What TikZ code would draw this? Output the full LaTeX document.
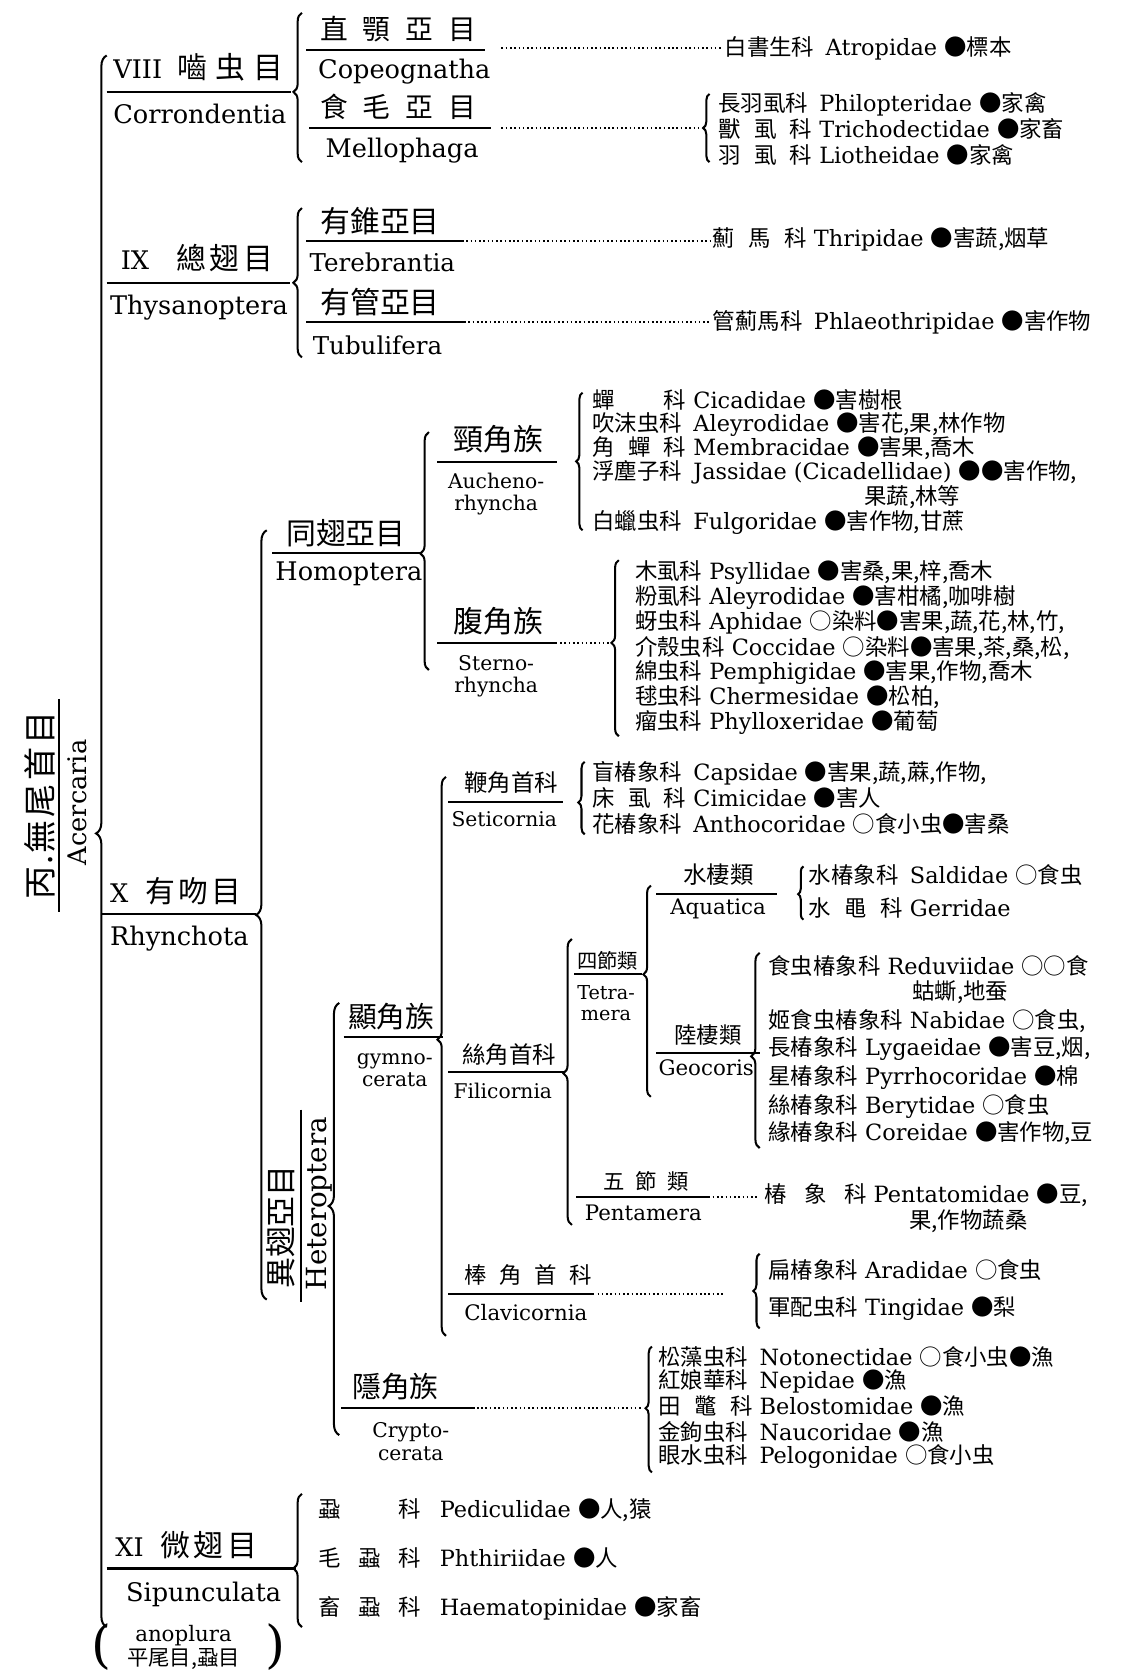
\documentclass[tikz,border=0pt]{standalone}
\usepackage{fontspec}
\setmainfont{DejaVu Serif}
\newfontfamily\cjk{Noto Sans CJK TC}
\usetikzlibrary{decorations.pathreplacing}
\newcommand\zhx[1]{{\cjk #1}}
\newcommand\fbx[2][88pt]{\makebox[#1][l]{\cjk #2}}
\newcommand\fs[1]{\fontsize{#1}{#1}\selectfont}
\tikzset{
  lbl/.style={inner sep=0pt, anchor=west},
  ord/.style={lbl, font=\fs{24}},
  fam/.style={lbl, font=\fs{21}},
  two/.style={inner sep=0pt, align=center, font=\fontsize{19}{21}\selectfont},
  uline/.style={line width=2pt},
  dots/.style={line width=2pt, dash pattern=on 1.5pt off 2.5pt},
  brc/.style args={#1:#2}{decorate, decoration={brace, amplitude=#2, aspect=#1}, line width=1.9pt},
}
\begin{document}
\begin{tikzpicture}[x=1pt,y=-1pt]
\fill[white] (0,0) rectangle (1054,1568);
\path[use as bounding box] (0,0) rectangle (1054,1568);

% ---- top level
\draw[brc={0.505:10pt}] (100,1525) -- (100,52);
\node[rotate=90, font=\cjk\fs{31}, inner sep=0pt] (ttl) at (37,755) {丙\hspace{2pt}.\hspace{2pt}無\hspace{3pt}尾\hspace{3pt}首\hspace{3pt}目};
\draw[uline] (55,655) -- (55,855);
\node[rotate=90, font=\fs{24}, inner sep=0pt] (acer) at (72,752) {Acercaria};

% ---- VIII
\node[ord] (o8) at (106,63) {VIII\hspace{14pt}\zhx{\fs{28}嚙\hspace{8pt}虫\hspace{8pt}目}};
\draw[uline] (100,86) -- (273,86);
\node[ord] (o8l) at (106,107) {Corrondentia};
\draw[brc={0.47:8pt}] (283,152) -- (283,12);
\node[lbl, font=\cjk\fs{26}] (s8a) at (300,27) {直\hspace{14pt}顎\hspace{14pt}亞\hspace{14pt}目};
\draw[uline] (287,47) -- (455,47);
\node[ord] (s8al) at (298,67) {Copeognatha};
\draw[dots] (470,45) -- (677,45);
\node[fam] (f1) at (679,45) {\fbx{白書生科} Atropidae \zhx{●標本}};
\node[lbl, font=\cjk\fs{26}] (s8b) at (300,100) {食\hspace{14pt}毛\hspace{14pt}亞\hspace{14pt}目};
\draw[uline] (290,120) -- (460,120);
\node[ord] (s8bl) at (305,141) {Mellophaga};
\draw[dots] (470,120) -- (657,120);
\draw[brc={0.5:6pt}] (665,152) -- (665,88);
\node[fam] (f2) at (673,98) {\fbx{長羽虱科} Philopteridae \zhx{●家禽}};
\node[fam] (f3) at (673,121) {\fbx{獸\hfill 虱\hfill 科} Trichodectidae \zhx{●家畜}};
\node[fam] (f4) at (673,145) {\fbx{羽\hfill 虱\hfill 科} Liotheidae \zhx{●家禽}};

% ---- IX
\node[ord] (o9) at (113,242) {IX\hspace{26pt}\zhx{\fs{28}總\hspace{3pt}翅\hspace{3pt}目}};
\draw[uline] (100,265) -- (272,265);
\node[ord] (o9l) at (103,288) {Thysanoptera};
\draw[brc={0.5:8pt}] (283,335) -- (283,195);
\node[lbl, font=\cjk\fs{28}] (s9a) at (300,207) {有錐亞目};
\draw[uline] (287,226) -- (435,226);
\draw[dots] (437,226) -- (666,226);
\node[fam] (f5) at (668,224) {\fbx{薊\hfill 馬\hfill 科} Thripidae \zhx{●害蔬,烟草}};
\node[lbl, font=\fs{23}] (s9al) at (290,246) {Terebrantia};
\node[lbl, font=\cjk\fs{28}] (s9b) at (300,283) {有管亞目};
\draw[uline] (287,302) -- (437,302);
\draw[dots] (439,302) -- (666,302);
\node[fam] (f6) at (668,302) {\fbx{管薊馬科} Phlaeothripidae \zhx{●害作物}};
\node[lbl, font=\fs{23}] (s9bl) at (293,324) {Tubulifera};

% ---- X
\node[ord] (o10) at (103,835) {X\hspace{16pt}\zhx{\fs{28}有\hspace{3pt}吻\hspace{3pt}目}};
\draw[uline] (95,857) -- (240,857);
\node[ord] (o10l) at (103,880) {Rhynchota};
\draw[brc={0.5:10pt}] (250,1218) -- (250,497);

% Homoptera
\node[lbl, font=\cjk\fs{28}] (hom) at (268,500) {同翅亞目};
\draw[uline] (255,518) -- (395,518);
\node[ord] (homl) at (258,538) {Homoptera};
\draw[brc={0.49:8pt}] (402,628) -- (402,405);
\node[lbl, font=\cjk\fs{28}] (auc) at (425,412) {頸角族};
\draw[uline] (410,433) -- (522,433);
\node[two] (aucl) at (465,463) {Aucheno-\\rhyncha};
\draw[brc={0.5:6pt}] (546,497) -- (546,368);
\node[fam] (h1) at (555,375) {\fbx{蟬\hfill 科} Cicadidae \zhx{●害樹根}};
\node[fam] (h2) at (555,398) {\fbx{吹沫虫科} Aleyrodidae \zhx{●害花,果,林作物}};
\node[fam] (h3) at (555,420) {\fbx{角\hfill 蟬\hfill 科} Membracidae \zhx{●害果,喬木}};
\node[fam] (h4) at (555,443) {\fbx{浮塵子科} Jassidae (Cicadellidae) \zhx{●●害作物,}};
\node[fam] (h4b) at (810,466) {\zhx{果蔬,林等}};
\node[fam] (h5) at (555,490) {\fbx{白蠟虫科} Fulgoridae \zhx{●害作物,甘蔗}};

\node[lbl, font=\cjk\fs{28}] (ste) at (425,582) {腹角族};
\draw[uline] (410,603) -- (522,603);
\draw[dots] (525,603) -- (572,603);
\node[two] (stel) at (465,634) {Sterno-\\rhyncha};
\draw[brc={0.53:7pt}] (580,690) -- (580,525);
\node[fam] (g1) at (595,537) {\zhx{木虱科} Psyllidae \zhx{●害桑,果,梓,喬木}};
\node[fam] (g2) at (595,560) {\zhx{粉虱科} Aleyrodidae \zhx{●害柑橘,咖啡樹}};
\node[fam] (g3) at (595,583) {\zhx{蚜虫科} Aphidae \zhx{○染料●害果,蔬,花,林,竹,}};
\node[fam] (g4) at (595,607) {\zhx{介殼虫科} Coccidae \zhx{○染料●害果,茶,桑,松,}};
\node[fam] (g5) at (595,630) {\zhx{綿虫科} Pemphigidae \zhx{●害果,作物,喬木}};
\node[fam] (g6) at (595,653) {\zhx{毬虫科} Chermesidae \zhx{●松柏,}};
\node[fam] (g7) at (595,677) {\zhx{瘤虫科} Phylloxeridae \zhx{●葡萄}};

% Heteroptera
\node[rotate=90, font=\cjk\fs{29}, inner sep=0pt] (het) at (263,1150) {異翅亞目};
\draw[uline] (282,1040) -- (282,1220);
\node[rotate=90, font=\fs{26}, inner sep=0pt] (hetl) at (299,1128) {Heteroptera};
\draw[brc={0.53:10pt}] (318,1345) -- (318,940);

\node[lbl, font=\cjk\fs{27}] (gym) at (326,953) {顯角族};
\draw[uline] (322,972) -- (415,972);
\node[two] (gyml) at (370,1003) {gymno-\\cerata};
\draw[brc={0.53:8pt}] (418,1252) -- (418,728);

\node[lbl, font=\cjk\fs{22}] (set) at (435,733) {鞭角首科};
\draw[uline] (420,752) -- (528,752);
\node[lbl, font=\fs{19}] (setl) at (423,768) {Seticornia};
\draw[brc={0.44:6pt}] (548,782) -- (548,714);
\node[fam] (e1) at (555,725) {\fbx{盲椿象科} Capsidae \zhx{●害果,蔬,蔴,作物,}};
\node[fam] (e2) at (555,748) {\fbx{床\hfill 虱\hfill 科} Cimicidae \zhx{●害人}};
\node[fam] (e3) at (555,772) {\fbx{花椿象科} Anthocoridae \zhx{○食小虫●害桑}};

\node[lbl, font=\cjk\fs{22}] (fil) at (433,988) {絲角首科};
\draw[uline] (420,1005) -- (530,1005);
\node[lbl, font=\fs{19}] (fill) at (425,1022) {Filicornia};
\draw[brc={0.53:8pt}] (536,1148) -- (536,880);

\node[lbl, font=\cjk\fs{19}] (tet) at (541,900) {四節類};
\draw[uline] (538,913) -- (602,913);
\node[two, font=\fontsize{18}{20}\selectfont] (tetl) at (568,940) {Tetra-\\mera};
\draw[brc={0.58:7pt}] (610,1028) -- (610,830);

\node[lbl, font=\cjk\fs{22}] (aqu) at (640,820) {水棲類};
\draw[uline] (615,838) -- (728,838);
\node[lbl, font=\fs{20}] (aqul) at (628,852) {Aquatica};
\draw[brc={0.48:5pt}] (753,862) -- (753,812);
\node[fam] (a1) at (758,820) {\fbx{水椿象科} Saldidae \zhx{○食虫}};
\node[fam] (a2) at (758,851) {\fbx{水\hfill 黽\hfill 科} Gerridae};

\node[lbl, font=\cjk\fs{21}] (geo) at (632,970) {陸棲類};
\draw[uline] (615,987) -- (712,987);
\node[lbl, font=\fs{20}] (geol) at (617,1001) {Geocoris};
\draw[brc={0.47:8pt}] (712,1076) -- (712,893);
\node[fam] (c1) at (720,905) {\zhx{食虫椿象科} Reduviidae \zhx{○○食}};
\node[fam] (c1b) at (855,930) {\zhx{蛄蟖,地蚕}};
\node[fam] (c2) at (720,957) {\zhx{姬食虫椿象科} Nabidae \zhx{○食虫,}};
\node[fam] (c3) at (720,983) {\zhx{長椿象科} Lygaeidae \zhx{●害豆,烟,}};
\node[fam] (c4) at (720,1010) {\zhx{星椿象科} Pyrrhocoridae \zhx{●棉}};
\node[fam] (c5) at (720,1037) {\zhx{絲椿象科} Berytidae \zhx{○食虫}};
\node[fam] (c6) at (720,1062) {\zhx{緣椿象科} Coreidae \zhx{●害作物,豆}};

\node[lbl, font=\cjk\fs{20}] (pen) at (565,1107) {五\hspace{10pt}節\hspace{10pt}類};
\draw[uline] (540,1122) -- (665,1122);
\draw[dots] (668,1122) -- (712,1122);
\node[lbl, font=\fs{20}] (penl) at (548,1137) {Pentamera};
\node[fam] (p1) at (716,1120) {\fbx[96pt]{椿\hfill 象\hfill 科} Pentatomidae \zhx{●豆,}};
\node[fam] (p1b) at (852,1145) {\zhx{果,作物蔬桑}};

\node[lbl, font=\cjk\fs{21}] (cla) at (435,1195) {棒\hspace{12pt}角\hspace{12pt}首\hspace{12pt}科};
\draw[uline] (420,1213) -- (557,1213);
\draw[dots] (560,1213) -- (680,1213);
\node[lbl, font=\fs{20}] (clal) at (435,1230) {Clavicornia};
\draw[brc={0.5:6pt}] (712,1245) -- (712,1175);
\node[fam] (k1) at (720,1190) {\zhx{扁椿象科} Aradidae \zhx{○食虫}};
\node[fam] (k2) at (720,1226) {\zhx{軍配虫科} Tingidae \zhx{●梨}};

\node[lbl, font=\cjk\fs{27}] (cry) at (330,1300) {隱角族};
\draw[uline] (320,1320) -- (445,1320);
\draw[dots] (447,1320) -- (603,1320);
\node[two] (cryl) at (385,1351) {Crypto-\\cerata};
\draw[brc={0.51:6pt}] (611,1380) -- (611,1262);
\node[fam] (n1) at (617,1272) {\fbx{松藻虫科} Notonectidae \zhx{○食小虫●漁}};
\node[fam] (n2) at (617,1295) {\fbx{紅娘華科} Nepidae \zhx{●漁}};
\node[fam] (n3) at (617,1318) {\fbx{田\hfill 鼈\hfill 科} Belostomidae \zhx{●漁}};
\node[fam] (n4) at (617,1342) {\fbx{金鉤虫科} Naucoridae \zhx{●漁}};
\node[fam] (n5) at (617,1365) {\fbx{眼水虫科} Pelogonidae \zhx{○食小虫}};

% ---- XI
\node[ord] (o11) at (108,1448) {XI\hspace{16pt}\zhx{\fs{28}微\hspace{3pt}翅\hspace{3pt}目}};
\draw[uline] (100,1470) -- (277,1470);
\node[ord] (o11l) at (118,1494) {Sipunculata};
\draw[brc={0.44:8pt}] (283,1525) -- (283,1400);
\node[fam] (x1) at (298,1415) {\fbx[96pt]{蝨\hfill 科}\hspace{18pt}Pediculidae \zhx{●人,猿}};
\node[fam] (x2) at (298,1460) {\fbx[96pt]{毛\hfill 蝨\hfill 科}\hspace{18pt}Phthiriidae \zhx{●人}};
\node[fam] (x3) at (298,1507) {\fbx[96pt]{畜\hfill 蝨\hfill 科}\hspace{18pt}Haematopinidae \zhx{●家畜}};

\node[two, font=\fontsize{20}{23}\selectfont] (ano) at (172,1544) {anoplura\\\zhx{平尾目,蝨目}};
\node[font=\fs{48}, inner sep=0pt] (lp) at (95,1544) {(};
\node[font=\fs{48}, inner sep=0pt] (rp) at (258,1544) {)};
\end{tikzpicture}
\end{document}
